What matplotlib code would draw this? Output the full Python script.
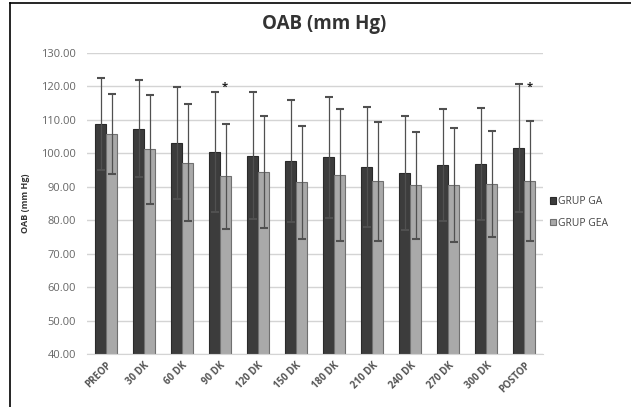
import numpy as np
import matplotlib
matplotlib.use('Agg')
import matplotlib.pyplot as plt
from matplotlib.lines import Line2D

categories = ['PREOP', '30 DK', '60 DK', '90 DK', '120 DK', '150 DK', '180 DK',
              '210 DK', '240 DK', '270 DK', '300 DK', 'POSTOP']
ga_mean = [108.7, 107.3, 103.0, 100.5, 99.3, 97.8, 98.8, 95.9, 94.0, 96.5, 96.8, 101.5]
ga_sd = [13.7, 14.5, 16.7, 17.9, 18.9, 18.2, 18.1, 17.8, 17.0, 16.7, 16.6, 19.1]
gea_mean = [105.7, 101.2, 97.2, 93.2, 94.4, 91.3, 93.5, 91.6, 90.5, 90.6, 90.8, 91.7]
gea_sd = [12.0, 16.3, 17.5, 15.7, 16.6, 16.8, 19.6, 17.8, 16.0, 17.1, 15.9, 18.0]
star_groups = ['90 DK', 'POSTOP']

plt.rcParams['font.family'] = ['Open Sans', 'DejaVu Sans']

fig = plt.figure(figsize=(6.31, 4.07), dpi=100)
ax = fig.add_axes([0.138, 0.130, 0.723, 0.740])

x = np.arange(len(categories))
w = 0.29
dark = '#3c3c3c'
light = '#a9a9a9'

ax.bar(x - w / 2, ga_mean, w, color=dark, edgecolor='#2a2a2a', linewidth=0.8,
       label='GRUP GA', zorder=2)
ax.bar(x + w / 2, gea_mean, w, color=light, edgecolor='#707070', linewidth=0.8,
       label='GRUP GEA', zorder=2)
ax.errorbar(x - w / 2, ga_mean, yerr=ga_sd, fmt='none', ecolor='#505050',
            elinewidth=0.9, capsize=3, capthick=1.5, zorder=3)
ax.errorbar(x + w / 2, gea_mean, yerr=gea_sd, fmt='none', ecolor='#505050',
            elinewidth=0.9, capsize=3, capthick=1.5, zorder=3)

for g in star_groups:
    i = categories.index(g)
    ax.text(i + 0.13, 119.6, '*', ha='center', va='center', fontsize=8,
            fontweight='bold', color='#222222', zorder=4)

ax.set_ylim(40, 130)
ax.set_xlim(-0.5, len(categories) - 0.5)
ax.set_yticks(np.arange(40, 131, 10))
ax.set_yticklabels(['%.2f' % v for v in np.arange(40, 131, 10)])
ax.set_xticks(x)
ax.set_xticklabels(categories, rotation=45, ha='right', rotation_mode='anchor',
                   fontsize=7, fontweight='bold', color='#555555')
ax.tick_params(axis='y', labelsize=8, labelcolor='#666666', length=0, pad=8)
ax.tick_params(axis='x', length=0, pad=4)
ax.yaxis.grid(True, color='#d4d4d4', linewidth=1, zorder=0)
ax.set_axisbelow(True)
for s in ['top', 'right', 'left']:
    ax.spines[s].set_visible(False)
ax.spines['bottom'].set_color('#d4d4d4')

ax.set_ylabel('OAB (mm Hg)', fontsize=6.5, fontweight='bold', color='#333333', labelpad=8)
fig.text(324 / 631, 1 - 24 / 407, 'OAB (mm Hg)', ha='center', va='center',
         fontsize=13.5, fontweight='bold', color='#333333')

ax.legend(loc='upper left', bbox_to_anchor=(0.995, 0.555), frameon=False, fontsize=7.5,
          handlelength=0.55, handleheight=0.55, handletextpad=0.2, labelspacing=1.0,
          labelcolor='#444444')

# frame edges visible in the reference (left and top only)
fig.lines.append(Line2D([10 / 631, 10 / 631], [0, 1 - 3 / 407], transform=fig.transFigure,
                        color='black', linewidth=1.2))
fig.lines.append(Line2D([10 / 631, 1], [1 - 3 / 407, 1 - 3 / 407], transform=fig.transFigure,
                        color='black', linewidth=1.2))

fig.savefig('out.png', dpi=100)
